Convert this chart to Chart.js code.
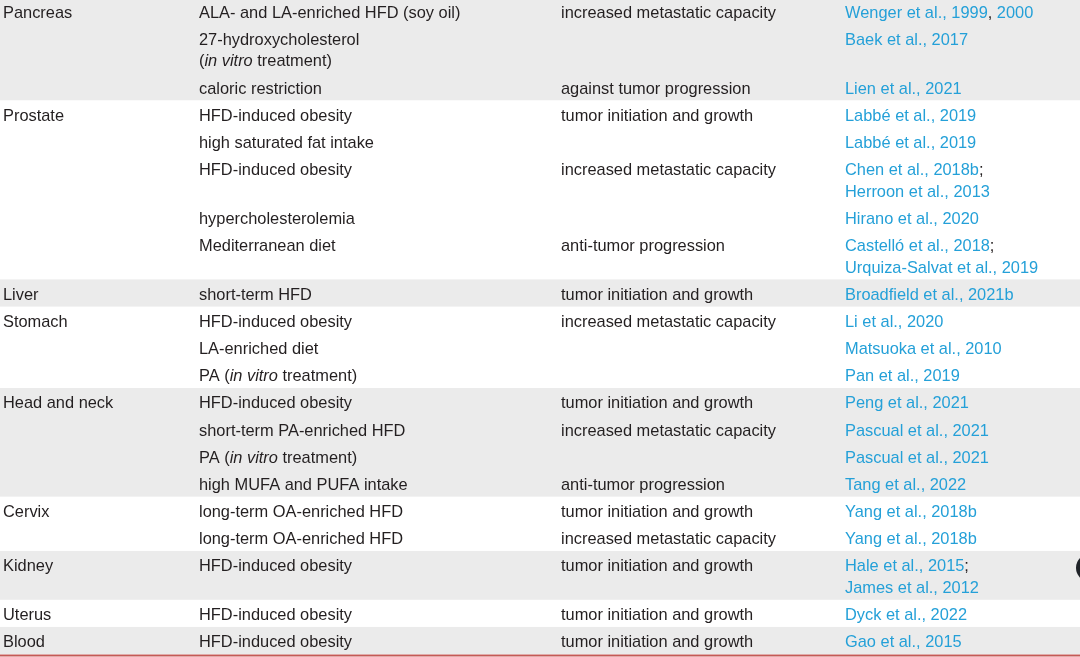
<!DOCTYPE html>
<html>
<head>
<meta charset="utf-8">
<script src="https://cdn.jsdelivr.net/npm/chart.js@4"></script>
<style>
  html, body { margin: 0; padding: 0; background: #ffffff; overflow: hidden; }
  #tabla { display: block; }
</style>
</head>
<body>
<canvas id="tabla" width="1080" height="657"></canvas>
<script>
// organos (una banda por grupo)
const organos = ['Pancreas', 'Prostate', 'Liver', 'Stomach', 'Head and neck', 'Cervix', 'Kidney', 'Uterus', 'Blood'];
// a que organo pertenece cada fila
const organoDeFila = [0, 0, 0, 1, 1, 1, 1, 1, 2, 3, 3, 3, 4, 4, 4, 4, 5, 5, 6, 7, 8];
// dieta (cursiva entre *)
const dieta = [
    ['ALA- and LA-enriched HFD (soy oil)'],
    ['27-hydroxycholesterol', '(*in vitro* treatment)'],
    ['caloric restriction'],
    ['HFD-induced obesity'],
    ['high saturated fat intake'],
    ['HFD-induced obesity'],
    ['hypercholesterolemia'],
    ['Mediterranean diet'],
    ['short-term HFD'],
    ['HFD-induced obesity'],
    ['LA-enriched diet'],
    ['PA (*in vitro* treatment)'],
    ['HFD-induced obesity'],
    ['short-term PA-enriched HFD'],
    ['PA (*in vitro* treatment)'],
    ['high MUFA and PUFA intake'],
    ['long-term OA-enriched HFD'],
    ['long-term OA-enriched HFD'],
    ['HFD-induced obesity'],
    ['HFD-induced obesity'],
    ['HFD-induced obesity']
];
// efecto
const efecto = [
    'increased metastatic capacity', '', 'against tumor progression',
    'tumor initiation and growth', '', 'increased metastatic capacity', '', 'anti-tumor progression',
    'tumor initiation and growth',
    'increased metastatic capacity', '', '',
    'tumor initiation and growth', 'increased metastatic capacity', '', 'anti-tumor progression',
    'tumor initiation and growth', 'increased metastatic capacity',
    'tumor initiation and growth',
    'tumor initiation and growth',
    'tumor initiation and growth'
];
// referencias (los trozos entre | van en negro)
const referencias = [
    ['Wenger et al., 1999|, |2000'],
    ['Baek et al., 2017'],
    ['Lien et al., 2021'],
    ['Labbé et al., 2019'],
    ['Labbé et al., 2019'],
    ['Chen et al., 2018b|;', 'Herroon et al., 2013'],
    ['Hirano et al., 2020'],
    ['Castelló et al., 2018|;', 'Urquiza-Salvat et al., 2019'],
    ['Broadfield et al., 2021b'],
    ['Li et al., 2020'],
    ['Matsuoka et al., 2010'],
    ['Pan et al., 2019'],
    ['Peng et al., 2021'],
    ['Pascual et al., 2021'],
    ['Pascual et al., 2021'],
    ['Tang et al., 2022'],
    ['Yang et al., 2018b'],
    ['Yang et al., 2018b'],
    ['Hale et al., 2015|;', 'James et al., 2012'],
    ['Dyck et al., 2022'],
    ['Gao et al., 2015']
];

// layout
const colIzq = [3, 199, 561, 845];
const pasoCont = 0.8;
const tam = '16.4px ';
const fuente = '"Liberation Sans", Arial, Helvetica, sans-serif';
const colorTexto = '#231f20';
const colorLink = '#24a0d8';
const colorBanda = '#ebebeb';

// posicion de cada linea en unidades de fila
const lineas = [];
let p = 0;
for (let i = 0; i < dieta.length; i++) {
    const n = Math.max(dieta[i].length, referencias[i].length);
    const arr = [];
    for (let k = 0; k < n; k++) arr.push(p + k * pasoCont);
    lineas.push(arr);
    p = arr[n - 1] + 1;
}

function textoRico(ctx, texto, x, y, sep, estilo) {
    const partes = texto.split(sep);
    let cx = x;
    partes.forEach(function (t, j) {
        const s = estilo(j % 2 === 1);
        ctx.font = s.font;
        ctx.fillStyle = s.color;
        ctx.fillText(t, cx, y);
        cx += ctx.measureText(t).width;
    });
}

const pluginTabla = {
    id: 'tabla',
    beforeDatasetsDraw(chart) {
        const ctx = chart.ctx;
        const xs = chart.scales.x, ys = chart.scales.y;
        const area = chart.chartArea;
        ctx.save();
        // bandas por organo
        let fin = 0;
        organos.forEach(function (o, g) {
            const filas = organoDeFila.map((v, i) => v === g ? i : -1).filter(i => i >= 0);
            const ini = lineas[filas[0]][0] - 0.55;
            const ult = lineas[filas[filas.length - 1]];
            fin = ult[ult.length - 1] + 0.45;
            if (g % 2 === 0) {
                const y1 = ys.getPixelForValue(ini), y2 = ys.getPixelForValue(fin);
                ctx.fillStyle = colorBanda;
                ctx.fillRect(area.left, y1, area.right - area.left, y2 - y1);
            }
        });
        // linea roja final
        const yr = ys.getPixelForValue(fin) + 1.5;
        ctx.strokeStyle = '#c45a57';
        ctx.lineWidth = 2;
        ctx.beginPath();
        ctx.moveTo(area.left, yr);
        ctx.lineTo(area.right, yr);
        ctx.stroke();

        // textos
        ctx.textBaseline = 'alphabetic';
        const base = 5.5;
        let previo = -1;
        for (let i = 0; i < dieta.length; i++) {
            const y0 = ys.getPixelForValue(lineas[i][0]) + base;
            if (organoDeFila[i] !== previo) {
                previo = organoDeFila[i];
                ctx.font = tam + fuente;
                ctx.fillStyle = colorTexto;
                ctx.fillText(organos[previo], xs.getPixelForValue(colIzq[0]), y0);
            }
            dieta[i].forEach(function (t, k) {
                const y = ys.getPixelForValue(lineas[i][k]) + base;
                textoRico(ctx, t, xs.getPixelForValue(colIzq[1]), y, '*', function (it) {
                    return { font: (it ? 'italic ' : '') + tam + fuente, color: colorTexto };
                });
            });
            if (efecto[i]) {
                ctx.font = tam + fuente;
                ctx.fillStyle = colorTexto;
                ctx.fillText(efecto[i], xs.getPixelForValue(colIzq[2]), y0);
            }
            referencias[i].forEach(function (t, k) {
                const y = ys.getPixelForValue(lineas[i][k]) + base;
                textoRico(ctx, t, xs.getPixelForValue(colIzq[3]), y, '|', function (negro) {
                    return { font: tam + fuente, color: negro ? colorTexto : colorLink };
                });
            });
        }

        // boton flotante oscuro del borde derecho
        const yb = ys.getPixelForValue(lineas[18][0]) + 2;
        ctx.fillStyle = '#1f2328';
        ctx.beginPath();
        ctx.arc(area.right + 10, yb, 14, 0, Math.PI * 2);
        ctx.fill();
        ctx.restore();
    }
};

// se crea la grafica sin ejes visibles, solo sirve de lienzo con escalas
window.onload = function () {
    const puntos = [];
    for (let i = 0; i < dieta.length; i++) {
        lineas[i].forEach(function (v) { puntos.push({ x: colIzq[1], y: v }); });
    }
    const ctx = document.getElementById('tabla').getContext('2d');
    new Chart(ctx, {
        type: 'scatter',
        data: {
            datasets: [{
                label: 'filas',
                data: puntos,
                pointRadius: 0,
                pointHoverRadius: 0
            }]
        },
        options: {
            responsive: false,
            animation: false,
            layout: { padding: 0 },
            plugins: { legend: { display: false }, tooltip: { enabled: false } },
            scales: {
                x: { type: 'linear', min: 0, max: 1080, display: false },
                y: { type: 'linear', reverse: true, min: -0.442, max: 23.757, display: false }
            }
        },
        plugins: [pluginTabla]
    });
};
</script>
</body>
</html>
